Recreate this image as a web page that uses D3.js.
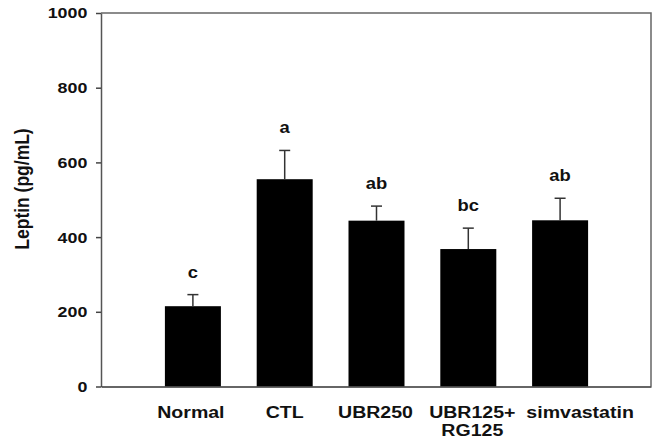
<!DOCTYPE html>
<html lang="en">
<head>
    <title>Leptin bar chart</title>
    <script src="https://d3js.org/d3.v7.min.js"></script>
    <style>
        body { margin: 0; background: #fff; }
        text { font-family: "Liberation Sans", Arial, sans-serif; font-weight: bold; fill: #111; }
    </style>
</head>
<body>
    <div id="chart"></div>
    <script>

        // data
        const categories = ["Normal", "CTL", "UBR250", "UBR125+\nRG125", "simvastatin"];
        const means = [215, 555, 444, 368, 445];
        const errors = [31, 77, 39, 56, 59];
        const letters = ["c", "a", "ab", "bc", "ab"];
        const yTicks = [0, 200, 400, 600, 800, 1000];

        // layout: labels in the figure are not quite centred under their bars
        const labelShift = [-2, 0, -1, 4, 20];

        const W = 653, H = 447;
        const plotLeft = 101, plotRight = 651, plotTop = 13, plotBottom = 386.5;
        const stretch = 1.15; // the figure text is a bit wide

        const svg = d3.select("#chart")
            .append("svg")
            .attr("width", W)
            .attr("height", H);

        const y = d3.scaleLinear().domain([0, 1000]).range([plotBottom, plotTop]);
        const x = d3.scaleBand()
            .domain(categories)
            .range([147, 606])
            .paddingInner(0.39)
            .paddingOuter(0.195);

        // frame (top and right sides)
        svg.append("path")
            .attr("d", `M${plotLeft},${plotTop}H${plotRight}V${plotBottom}`)
            .style("fill", "none")
            .style("stroke", "#666")
            .style("stroke-width", 1.5);

        // bars
        svg.selectAll("rect.bar")
            .data(categories)
            .enter()
                .append("rect")
                .attr("class", "bar")
                .attr("x", d => x(d))
                .attr("y", (d, i) => y(means[i]))
                .attr("width", x.bandwidth())
                .attr("height", (d, i) => plotBottom - y(means[i]))
                .style("fill", "#000");

        // error bars (upper only)
        const eb = svg.selectAll("g.err")
            .data(categories)
            .enter()
                .append("g")
                .attr("class", "err")
                .attr("transform", d => `translate(${x(d) + x.bandwidth() / 2},0)`);
        eb.append("line")
            .attr("y1", (d, i) => y(means[i]))
            .attr("y2", (d, i) => y(means[i] + errors[i]))
            .style("stroke", "#333").style("stroke-width", 1.5);
        eb.append("line")
            .attr("x1", -5.5).attr("x2", 5.5)
            .attr("y1", (d, i) => y(means[i] + errors[i]))
            .attr("y2", (d, i) => y(means[i] + errors[i]))
            .style("stroke", "#333").style("stroke-width", 1.5);

        // significance letters
        eb.append("text")
            .attr("transform", (d, i) => `translate(0,${y(means[i] + errors[i]) - 17}) scale(${stretch},1)`)
            .attr("text-anchor", "middle")
            .style("font-size", "16px")
            .text((d, i) => letters[i]);

        // y axis
        const yAxis = svg.append("g")
            .attr("transform", `translate(${plotLeft},0)`)
            .call(d3.axisLeft(y).tickValues(yTicks).tickFormat(d3.format("d")).tickSize(5).tickSizeOuter(0));
        yAxis.select(".domain").style("stroke", "#555").style("stroke-width", 1.5);
        yAxis.selectAll(".tick line").style("stroke", "#444").style("stroke-width", 1.5);
        yAxis.selectAll(".tick text")
            .attr("x", -13.7 / stretch)
            .attr("transform", `scale(${stretch},1)`)
            .style("font-size", "15.5px")
            .style("font-family", "'Liberation Sans', Arial, sans-serif")
            .style("font-weight", "bold")
            .style("fill", "#111");

        // x axis line
        const xAxis = svg.append("g")
            .attr("transform", `translate(0,${plotBottom})`)
            .call(d3.axisBottom(d3.scaleLinear().domain([0, 1]).range([plotLeft, plotRight])).ticks(0).tickSizeOuter(0));
        xAxis.select(".domain").style("stroke", "#333").style("stroke-width", 1.5);

        // category labels, split on newline
        const lab = svg.selectAll("text.cat")
            .data(categories)
            .enter()
                .append("text")
                .attr("class", "cat")
                .attr("transform", (d, i) => `translate(${x(d) + x.bandwidth() / 2 + labelShift[i]},418) scale(${stretch},1)`)
                .attr("text-anchor", "middle")
                .style("font-size", "17px");
        lab.selectAll("tspan")
            .data(d => d.split("\n"))
            .enter()
                .append("tspan")
                .attr("x", 0)
                .attr("dy", (d, i) => i === 0 ? 0 : 18.5)
                .text(d => d);

        // y title
        svg.append("text")
            .attr("transform", `translate(29,189) rotate(-90) scale(1,${stretch})`)
            .attr("text-anchor", "middle")
            .style("font-size", "17.5px")
            .text("Leptin (pg/mL)");

    </script>
</body>
</html>
